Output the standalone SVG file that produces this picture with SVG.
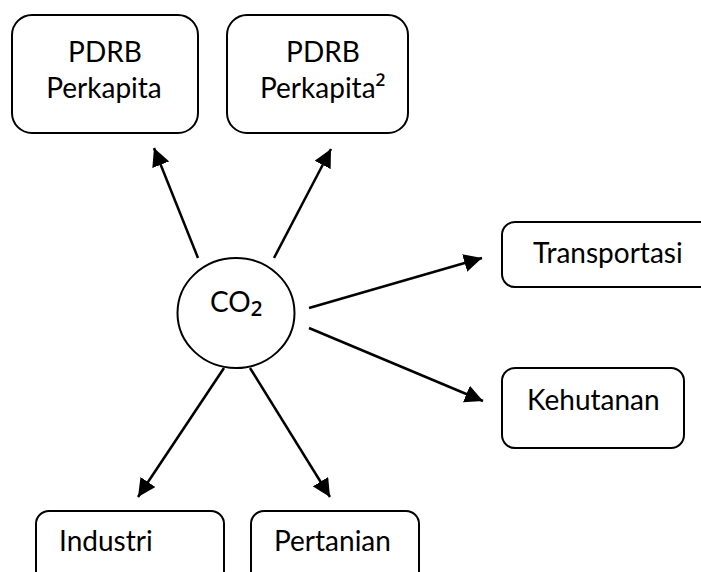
<svg xmlns="http://www.w3.org/2000/svg" width="701" height="572" viewBox="0 0 701 572">
<defs>
<style>
.box{fill:#fff;stroke:#000;stroke-width:2}
.node-c{fill:#fff;stroke:#000;stroke-width:2}
.t{font-family:Lato,"Noto Sans","DejaVu Sans",sans-serif;font-size:28px;fill:#000}
.sx{font-family:"Noto Sans","DejaVu Sans",sans-serif;font-size:34px}
.sp{font-family:"Noto Sans","DejaVu Sans",sans-serif;font-size:29px}
.ln{stroke:#000;stroke-width:2.5;fill:none;marker-end:url(#ah)}
</style>
<marker id="ah" markerUnits="userSpaceOnUse" markerWidth="20" markerHeight="18" viewBox="0 0 20 18" refX="18" refY="9" orient="auto">
<path d="M0,0 L18,9 L0,18 Z" fill="#000"/>
</marker>
</defs>
<rect width="701" height="572" fill="#fff"/>
<g id="connectors">
<line class="ln" x1="198" y1="258" x2="154" y2="148"/>
<line class="ln" x1="274" y1="258" x2="331" y2="149"/>
<line class="ln" x1="309" y1="308" x2="482" y2="258"/>
<line class="ln" x1="309" y1="328" x2="483" y2="401"/>
<line class="ln" x1="224" y1="368" x2="138" y2="497"/>
<line class="ln" x1="250" y1="368" x2="330" y2="497"/>
</g>
<g id="co2">
<ellipse class="node-c" cx="236" cy="313" rx="58.5" ry="55"/>
<text class="t" x="210" y="312">CO<tspan class="sx">₂</tspan></text>
</g>
<g id="pdrb">
<rect class="box" x="12" y="15" width="186" height="118" rx="20"/>
<text class="t" x="105" y="62" text-anchor="middle">PDRB</text>
<text class="t" x="104" y="98" text-anchor="middle">Perkapita</text>
</g>
<g id="pdrb2">
<rect class="box" x="227" y="15" width="181" height="118" rx="20"/>
<text class="t" x="323" y="62" text-anchor="middle">PDRB</text>
<text class="t" x="260" y="98">Perkapita<tspan class="sp">²</tspan></text>
</g>
<g id="transportasi">
<rect class="box" x="502" y="222" width="230" height="65" rx="13"/>
<text class="t" x="533" y="263">Transportasi</text>
</g>
<g id="kehutanan">
<rect class="box" x="502" y="368" width="182" height="80" rx="13"/>
<text class="t" x="527" y="410">Kehutanan</text>
</g>
<g id="industri">
<rect class="box" x="36" y="511" width="188" height="90" rx="13"/>
<text class="t" x="59" y="551">Industri</text>
</g>
<g id="pertanian">
<rect class="box" x="251" y="511" width="168" height="90" rx="13"/>
<text class="t" x="274" y="551">Pertanian</text>
</g>
</svg>
